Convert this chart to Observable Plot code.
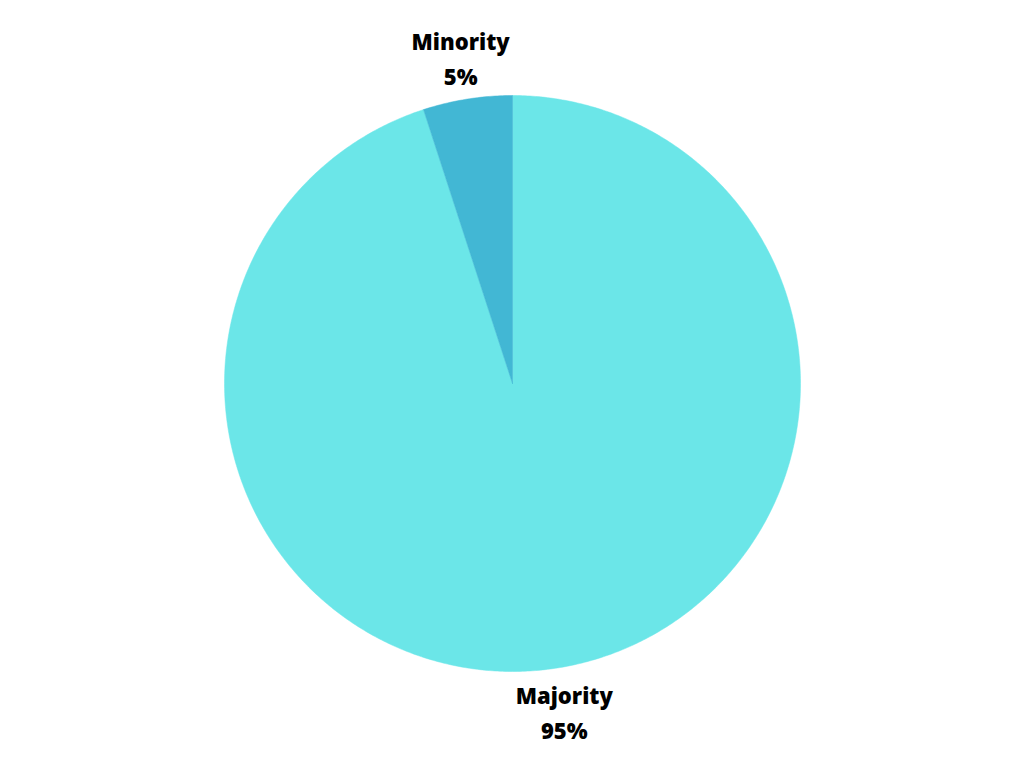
<!DOCTYPE html>
<html>
<head>
<meta charset="utf-8">
<script src="https://cdn.jsdelivr.net/npm/d3@7"></script>
<script src="https://cdn.jsdelivr.net/npm/@observablehq/plot@0.6"></script>
<style>
  html, body { margin: 0; padding: 0; background: #fff; }
  #chart { width: 1024px; height: 768px; }
</style>
</head>
<body>
<div id="chart"></div>
<script>
const categories = ["Majority", "Minority"];
const values = [95, 5];
const valueLabels = ["95%", "5%"];
const colors = ["#6be6e8", "#42b7d4"];

const W = 1024, H = 768;
const cx = 512, cy = 383, R = 288;

const total = d3.sum(values);
const slices = [];
let majAngle = values[0] / total * 2 * Math.PI;
slices.push({name: categories[0], a0: 0, a1: majAngle, label: valueLabels[0]});
slices.push({name: categories[1], a0: majAngle, a1: 2 * Math.PI, label: valueLabels[1]});

const pts = [];
for (const s of slices) {
  const n = Math.max(4, Math.ceil((s.a1 - s.a0) / (Math.PI / 360)));
  pts.push({name: s.name, x: 0, y: 0});
  for (let i = 0; i <= n; i++) {
    const a = s.a0 + (s.a1 - s.a0) * i / n;
    pts.push({name: s.name, x: Math.sin(a), y: Math.cos(a)});
  }
  pts.push({name: s.name, x: 0, y: 0});
}

const labelR = 1.15;
const labels = slices.map(s => {
  const a = (s.a0 + s.a1) / 2;
  return {name: s.name, text: s.name + "\n" + s.label, x: labelR * Math.sin(a), y: labelR * Math.cos(a)};
});

const plot = Plot.plot({
  width: W,
  height: H,
  margin: 0,
  x: {domain: [-cx / R, (W - cx) / R], axis: null},
  y: {domain: [-(H - cy) / R, cy / R], axis: null},
  color: {domain: categories, range: colors},
  style: {background: "#fff"},
  marks: [
    Plot.line(pts, {x: "x", y: "y", z: "name", fill: "name", stroke: "name", strokeWidth: 0.5, curve: "linear"}),
    Plot.text(labels, {x: "x", y: "y", text: "text", fontSize: 22, fontWeight: 800, fill: "#000", lineHeight: 1.6, fontFamily: "'Open Sans', sans-serif"})
  ]
});
document.getElementById("chart").appendChild(plot);
</script>
</body>
</html>
